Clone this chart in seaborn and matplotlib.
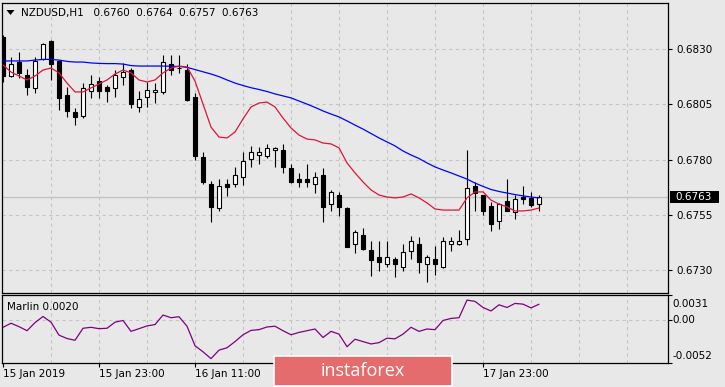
import numpy as np
import pandas as pd
import matplotlib
matplotlib.use("Agg")
import matplotlib.pyplot as plt
import matplotlib.transforms as mtransforms
from matplotlib.patches import Rectangle, Polygon
import seaborn as sns

# ---------------- data ----------------
symbol_title = "NZDUSD,H1"
title_values = ["0.6760", "0.6764", "0.6757", "0.6763"]
indicator_name = "Marlin"
indicator_last = "0.0020"
last_price = 0.6763

opens = [0.68354, 0.68178, 0.68241, 0.68182, 0.68124, 0.68255, 0.68336, 0.68246, 0.68092, 0.68015,
         0.67997, 0.68110, 0.68155, 0.68128, 0.68124, 0.68173, 0.68205, 0.68038, 0.68083, 0.68106,
         0.68106, 0.68232, 0.68214, 0.68205, 0.68083, 0.67812, 0.67690, 0.67581, 0.67690, 0.67690,
         0.67721, 0.67803, 0.67821, 0.67816, 0.67843, 0.67843, 0.67762, 0.67712, 0.67712, 0.67690,
         0.67730, 0.67599, 0.67640, 0.67581, 0.67419, 0.67459, 0.67391, 0.67360, 0.67328, 0.67351,
         0.67315, 0.67387, 0.67419, 0.67328, 0.67351, 0.67315, 0.67419, 0.67419, 0.67441, 0.67681,
         0.67640, 0.67590, 0.67523, 0.67613, 0.67563, 0.67631, 0.67627, 0.67600]
highs = [0.68363, 0.68264, 0.68286, 0.68210, 0.68264, 0.68325, 0.68340, 0.68250, 0.68128, 0.68033,
         0.68146, 0.68182, 0.68173, 0.68137, 0.68205, 0.68237, 0.68214, 0.68110, 0.68151, 0.68146,
         0.68273, 0.68273, 0.68273, 0.68232, 0.68101, 0.67834, 0.67703, 0.67712, 0.67712, 0.67767,
         0.67834, 0.67862, 0.67857, 0.67871, 0.67857, 0.67871, 0.67780, 0.67740, 0.67780, 0.67744,
         0.67762, 0.67663, 0.67654, 0.67584, 0.67482, 0.67491, 0.67432, 0.67432, 0.67432, 0.67360,
         0.67419, 0.67455, 0.67450, 0.67369, 0.67410, 0.67450, 0.67450, 0.67482, 0.67843, 0.67699,
         0.67642, 0.67608, 0.67602, 0.67712, 0.67640, 0.67681, 0.67654, 0.67640]
lows = [0.68151, 0.68173, 0.68169, 0.68092, 0.68101, 0.68250, 0.68160, 0.68024, 0.67993, 0.67956,
        0.67988, 0.68079, 0.68079, 0.68060, 0.68083, 0.68137, 0.68033, 0.68015, 0.68038, 0.68056,
        0.68097, 0.68182, 0.68192, 0.68065, 0.67798, 0.67690, 0.67518, 0.67568, 0.67636, 0.67676,
        0.67685, 0.67767, 0.67780, 0.67807, 0.67767, 0.67740, 0.67695, 0.67676, 0.67676, 0.67649,
        0.67518, 0.67568, 0.67545, 0.67403, 0.67378, 0.67391, 0.67274, 0.67297, 0.67315, 0.67269,
        0.67297, 0.67351, 0.67288, 0.67247, 0.67279, 0.67310, 0.67387, 0.67414, 0.67414, 0.67568,
        0.67550, 0.67477, 0.67486, 0.67566, 0.67532, 0.67599, 0.67584, 0.67570]
closes = [0.68178, 0.68232, 0.68192, 0.68128, 0.68246, 0.68323, 0.68232, 0.68079, 0.68020, 0.67993,
          0.68124, 0.68142, 0.68110, 0.68110, 0.68182, 0.68196, 0.68051, 0.68074, 0.68115, 0.68115,
          0.68241, 0.68205, 0.68212, 0.68069, 0.67816, 0.67699, 0.67586, 0.67681, 0.67676, 0.67730,
          0.67794, 0.67834, 0.67834, 0.67853, 0.67853, 0.67767, 0.67699, 0.67699, 0.67699, 0.67721,
          0.67586, 0.67654, 0.67586, 0.67405, 0.67473, 0.67396, 0.67346, 0.67337, 0.67360, 0.67328,
          0.67382, 0.67432, 0.67337, 0.67360, 0.67328, 0.67432, 0.67432, 0.67432, 0.67672, 0.67649,
          0.67568, 0.67509, 0.67599, 0.67568, 0.67622, 0.67622, 0.67595, 0.67630]

ma_slow = [0.68246, 0.68246, 0.68246, 0.68246, 0.68250, 0.68253, 0.68253, 0.68250, 0.68244, 0.68241,
           0.68241, 0.68237, 0.68235, 0.68234, 0.68234, 0.68232, 0.68225, 0.68223, 0.68223, 0.68223,
           0.68223, 0.68222, 0.68221, 0.68217, 0.68207, 0.68197, 0.68187, 0.68175, 0.68160, 0.68146,
           0.68135, 0.68125, 0.68117, 0.68108, 0.68097, 0.68088, 0.68079, 0.68065, 0.68051, 0.68036,
           0.68020, 0.68006, 0.67993, 0.67975, 0.67956, 0.67938, 0.67918, 0.67898, 0.67880, 0.67862,
           0.67839, 0.67821, 0.67805, 0.67785, 0.67767, 0.67753, 0.67740, 0.67726, 0.67712, 0.67694,
           0.67679, 0.67665, 0.67656, 0.67649, 0.67642, 0.67636, 0.67631, 0.67627]
ma_fast = [0.68228, 0.68196, 0.68178, 0.68160, 0.68178, 0.68205, 0.68214, 0.68192, 0.68146, 0.68106,
           0.68106, 0.68124, 0.68142, 0.68160, 0.68187, 0.68205, 0.68192, 0.68160, 0.68151, 0.68160,
           0.68192, 0.68214, 0.68223, 0.68219, 0.68155, 0.68051, 0.67947, 0.67902, 0.67898, 0.67925,
           0.67984, 0.68038, 0.68056, 0.68060, 0.68038, 0.67988, 0.67943, 0.67911, 0.67893, 0.67889,
           0.67875, 0.67871, 0.67853, 0.67785, 0.67740, 0.67699, 0.67663, 0.67640, 0.67631, 0.67627,
           0.67631, 0.67645, 0.67627, 0.67604, 0.67577, 0.67572, 0.67572, 0.67572, 0.67627, 0.67654,
           0.67654, 0.67617, 0.67599, 0.67586, 0.67568, 0.67568, 0.67572, 0.67581]
marlin = [-0.00084, -0.00034, -0.00076, -0.00126, -0.00026, 0.00049, -0.00021, -0.00181, -0.00222, -0.00244,
          -0.00096, -0.00084, -0.00101, -0.00096, -0.00021, 0.00000, -0.00134, -0.00101, -0.00067, -0.00050,
          0.00067, 0.00034, 0.00046, -0.00071, -0.00311, -0.00386, -0.00470, -0.00365, -0.00336, -0.00260,
          -0.00176, -0.00122, -0.00113, -0.00080, -0.00071, -0.00126, -0.00176, -0.00147, -0.00126, -0.00105,
          -0.00210, -0.00134, -0.00168, -0.00323, -0.00231, -0.00260, -0.00289, -0.00273, -0.00218, -0.00226,
          -0.00168, -0.00084, -0.00134, -0.00105, -0.00113, 0.00000, 0.00025, 0.00034, 0.00251, 0.00235,
          0.00160, 0.00117, 0.00193, 0.00160, 0.00210, 0.00201, 0.00155, 0.00200]

price_ticks = [0.6830, 0.6805, 0.6780, 0.6755, 0.6730]
marlin_ticks = [0.0031, 0.0, -0.0052]
marlin_tick_labels = ["0.0031", "0.00", "-0.0052"]
time_ticks = [0, 12, 24, 36, 48, 60]
time_labels = ["15 Jan 2019", "15 Jan 23:00", "16 Jan 11:00", "16 Jan 23:00",
               "17 Jan 11:00", "17 Jan 23:00"]

# ---------------- styling ----------------
sns.set_theme(style="white")
plt.rcParams['font.family'] = ['DejaVu Sans']
BG = "#E8E8E8"
GRID = "#C4C4C4"
FS = 7.5
W, H = 725, 387

df = pd.DataFrame({"bar": np.arange(len(opens)), "open": opens, "high": highs,
                   "low": lows, "close": closes, "ma_slow": ma_slow,
                   "ma_fast": ma_fast, "marlin": marlin})

fig = plt.figure(figsize=(W / 100, H / 100), dpi=100, facecolor=BG)


def rect(l, t, r, b):
    return [l / W, 1 - b / H, (r - l) / W, (b - t) / H]


ax = fig.add_axes(rect(2.3, 2.7, 668.3, 293.3), facecolor=BG)
ax2 = fig.add_axes(rect(2.3, 295.3, 668.3, 362.7), facecolor=BG)

xlim = (-0.09, 83.16)
for a in (ax, ax2):
    a.set_xlim(*xlim)
    for s in a.spines.values():
        s.set_color("black")
        s.set_linewidth(0.9)
    for b in range(6, 84, 6):
        a.axvline(b, color=GRID, lw=0.8, ls=(0, (3, 3)), zorder=0)

ax.set_ylim(0.671958, 0.685093)
ax2.set_ylim(-0.0052, 0.0031)

for p in price_ticks:
    ax.axhline(p, color=GRID, lw=0.8, ls=(0, (3, 3)), zorder=0)
ax2.axhline(0.0, color=GRID, lw=0.8, ls=(0, (3, 3)), zorder=0)

# current price line
ax.axhline(last_price, color="#C2C2C2", lw=1.0, zorder=1)

# candles
up = df["close"] >= df["open"]
ax.vlines(df["bar"], df["low"], df["high"], color="black", lw=0.8, zorder=2)
body_bottom = np.minimum(df["open"], df["close"])
body_h = np.maximum((df["close"] - df["open"]).abs(), 0.000008)
ax.bar(df["bar"], body_h, bottom=body_bottom, width=0.5,
       color=np.where(up, "white", "black"), edgecolor="black", linewidth=0.8, zorder=3)

# moving averages
sns.lineplot(data=df, x="bar", y="ma_slow", ax=ax, color="#0000FF", lw=0.9, zorder=4)
sns.lineplot(data=df, x="bar", y="ma_fast", ax=ax, color="#DC143C", lw=0.9, zorder=4)
# indicator
sns.lineplot(data=df, x="bar", y="marlin", ax=ax2, color="#800080", lw=0.9, zorder=4)

for a in (ax, ax2):
    a.set_xlabel("")
    a.set_ylabel("")

# main y axis
ax.yaxis.tick_right()
ax.set_yticks(price_ticks)
ax.set_yticklabels([f"{p:.4f}" for p in price_ticks])
ax.tick_params(axis="y", right=True, left=False, length=3, width=0.8, color="black",
               pad=2.5, labelsize=FS, labelcolor="black", direction="out")
ax.tick_params(axis="x", bottom=False, labelbottom=False)

# last price box
tr = mtransforms.blended_transform_factory(fig.transFigure, ax.transData)
half = 6 * (ax.get_ylim()[1] - ax.get_ylim()[0]) / 290.6
ax.add_patch(Rectangle((670 / W, last_price - half), 49 / W, 2 * half, transform=tr,
                       facecolor="black", edgecolor="none", clip_on=False, zorder=10))
ax.text(675.5 / W, last_price, f"{last_price:.4f}", transform=tr, color="white",
        fontsize=FS, va="center", ha="left", zorder=11, clip_on=False)

# indicator y axis
ax2.yaxis.tick_right()
ax2.set_yticks(marlin_ticks)
ax2.set_yticklabels([])
ax2.tick_params(axis="y", right=True, left=False, length=3, width=0.8, color="black",
                direction="out")
ytr2 = mtransforms.blended_transform_factory(ax2.transAxes, ax2.transData)
for v, lab, off in zip(marlin_ticks, marlin_tick_labels, [-9, 0, 7]):
    ax2.annotate(lab, xy=(1, v), xycoords=ytr2, xytext=(4.5, off), textcoords="offset pixels",
                 ha="left", va="center", fontsize=FS, color="black", annotation_clip=False)

# time axis
ax2.set_xticks(time_ticks)
ax2.set_xticklabels(time_labels, ha="left")
ax2.tick_params(axis="x", bottom=True, length=3, width=0.8, color="black", pad=1.5,
                labelsize=FS, labelcolor="black", direction="out")

# titles
fig.patches.append(Polygon([(6.5 / W, 1 - 10 / H), (14.5 / W, 1 - 10 / H), (10.5 / W, 1 - 15 / H)],
                           closed=True, transform=fig.transFigure, facecolor="black",
                           edgecolor="none"))
fig.text(21 / W, 1 - 12.7 / H, symbol_title + "   " + "  ".join(title_values),
         fontsize=FS, va="center", ha="left", color="black")
fig.text(7.3 / W, 1 - 307.5 / H, f"{indicator_name} {indicator_last}",
         fontsize=FS, va="center", ha="left", color="black")

# watermark
fig.patches.append(Rectangle((274 / W, 1 - 386 / H), 178 / W, 30 / H, transform=fig.transFigure,
                             facecolor="#E46C6C", edgecolor="white", linewidth=1.2, zorder=20))
fig.text(363 / W, 1 - 371 / H, "instaforex", fontsize=13, color="white", ha="center",
         va="center", family=["Open Sans", "DejaVu Sans"], zorder=21)

fig.savefig("out.png", dpi=100, facecolor=BG)
